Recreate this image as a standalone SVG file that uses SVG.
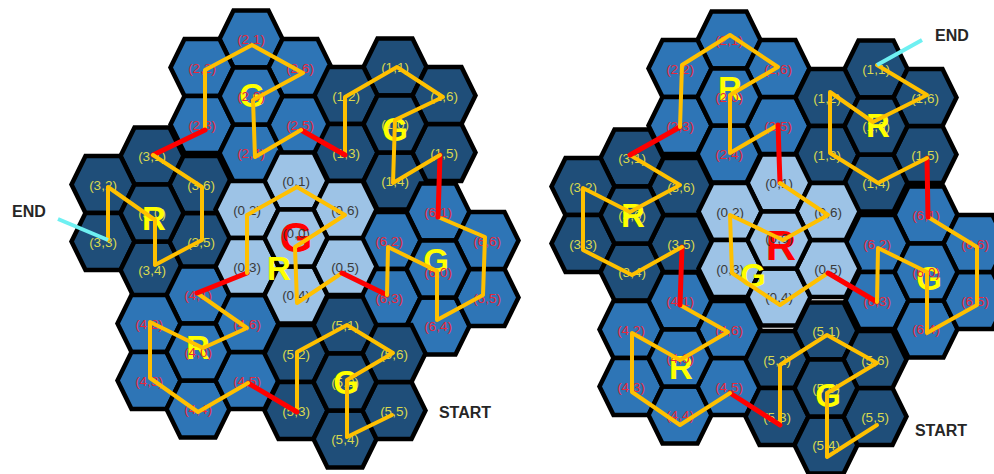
<svg xmlns="http://www.w3.org/2000/svg" width="994" height="474" viewBox="0 0 994 474">
<style>
.lt use{fill:#9DC3E6}.md use{fill:#2E75B6}.dk use{fill:#1F4E79}
.lb{font-family:"Liberation Sans",Arial,sans-serif;font-size:13.5px;text-anchor:middle}
.lt .lb{fill:#3A3A3A}.md .lb{fill:#E8283C}.dk .lb{fill:#D8D850}
.big{font-family:"Liberation Sans",Arial,sans-serif;font-weight:bold;text-anchor:middle;font-size:33px;fill:#FFFF00}
.bigred{font-size:42px;fill:#FF0000}
.y{fill:none;stroke:#FFC000;stroke-width:4;stroke-linejoin:round;stroke-linecap:round}
.r{fill:none;stroke:#FF0000;stroke-width:5;stroke-linecap:round}
.c{fill:none;stroke:#6EF0F2;stroke-width:4}
.tag{font-family:"Liberation Sans",Arial,sans-serif;font-weight:bold;font-size:16px;fill:#262626;text-anchor:middle}
</style>
<defs>
<polygon id="hx" points="-31.5,0 -17.5,-28.5 17.5,-28.5 31.5,0 17.5,28.5 -17.5,28.5" stroke="#000" stroke-width="4.5"/>
</defs>
<rect width="994" height="474" fill="#fff"/>

<g id="left">
<g id="L-c2" class="md" transform="translate(251,96)">
<g id="L-2-1" transform="translate(0,-57)"><use href="#hx"/><text class="lb" y="5">(2,1)</text></g>
<g id="L-2-2" transform="translate(-49,-28.5)"><use href="#hx"/><text class="lb" y="5">(2,2)</text></g>
<g id="L-2-3" transform="translate(-49,28.5)"><use href="#hx"/><text class="lb" y="5">(2,3)</text></g>
<g id="L-2-4" transform="translate(0,57)"><use href="#hx"/><text class="lb" y="5">(2,4)</text></g>
<g id="L-2-5" transform="translate(49,28.5)"><use href="#hx"/><text class="lb" y="5">(2,5)</text></g>
<g id="L-2-6" transform="translate(49,-28.5)"><use href="#hx"/><text class="lb" y="5">(2,6)</text></g>
<g id="L-2-0"><use href="#hx"/><text class="big" x="1" y="11">G</text><text class="lb" y="5">(2,0)</text></g>
</g>
<g id="L-c1" class="dk" transform="translate(395,124)">
<g id="L-1-1" transform="translate(0,-57)"><use href="#hx"/><text class="lb" y="5">(1,1)</text></g>
<g id="L-1-2" transform="translate(-49,-28.5)"><use href="#hx"/><text class="lb" y="5">(1,2)</text></g>
<g id="L-1-3" transform="translate(-49,28.5)"><use href="#hx"/><text class="lb" y="5">(1,3)</text></g>
<g id="L-1-4" transform="translate(0,57)"><use href="#hx"/><text class="lb" y="5">(1,4)</text></g>
<g id="L-1-5" transform="translate(49,28.5)"><use href="#hx"/><text class="lb" y="5">(1,5)</text></g>
<g id="L-1-6" transform="translate(49,-28.5)"><use href="#hx"/><text class="lb" y="5">(1,6)</text></g>
<g id="L-1-0"><use href="#hx"/><text class="lb" y="5">(1,0)</text><text class="big" y="17">G</text></g>
</g>
<g id="L-c3" class="dk" transform="translate(152,213)">
<g id="L-3-1" transform="translate(0,-57)"><use href="#hx"/><text class="lb" y="5">(3,1)</text></g>
<g id="L-3-2" transform="translate(-49,-28.5)"><use href="#hx"/><text class="lb" y="5">(3,2)</text></g>
<g id="L-3-3" transform="translate(-49,28.5)"><use href="#hx"/><text class="lb" y="5">(3,3)</text></g>
<g id="L-3-4" transform="translate(0,57)"><use href="#hx"/><text class="lb" y="5">(3,4)</text></g>
<g id="L-3-5" transform="translate(49,28.5)"><use href="#hx"/><text class="lb" y="5">(3,5)</text></g>
<g id="L-3-6" transform="translate(49,-28.5)"><use href="#hx"/><text class="lb" y="5">(3,6)</text></g>
<g id="L-3-0"><use href="#hx"/><text class="lb" y="5">(3,0)</text><text class="big" x="2" y="17">R</text></g>
</g>
<g id="L-c6" class="md" transform="translate(438,269)">
<g id="L-6-1" transform="translate(0,-57)"><use href="#hx"/><text class="lb" y="5">(6,1)</text></g>
<g id="L-6-2" transform="translate(-49,-28.5)"><use href="#hx"/><text class="lb" y="5">(6,2)</text></g>
<g id="L-6-3" transform="translate(-49,28.5)"><use href="#hx"/><text class="lb" y="5">(6,3)</text></g>
<g id="L-6-4" transform="translate(0,57)"><use href="#hx"/><text class="lb" y="5">(6,4)</text></g>
<g id="L-6-5" transform="translate(49,28.5)"><use href="#hx"/><text class="lb" y="5">(6,5)</text></g>
<g id="L-6-6" transform="translate(49,-28.5)"><use href="#hx"/><text class="lb" y="5">(6,6)</text></g>
<g id="L-6-0"><use href="#hx"/><text class="big" x="-2" y="3">G</text><text class="lb" y="8">(6,0)</text></g>
</g>
<g id="L-c4" class="md" transform="translate(198,352)">
<g id="L-4-1" transform="translate(0,-57)"><use href="#hx"/><text class="lb" y="5">(4,1)</text></g>
<g id="L-4-2" transform="translate(-49,-28.5)"><use href="#hx"/><text class="lb" y="5">(4,2)</text></g>
<g id="L-4-3" transform="translate(-49,28.5)"><use href="#hx"/><text class="lb" y="5">(4,3)</text></g>
<g id="L-4-4" transform="translate(0,57)"><use href="#hx"/><text class="lb" y="5">(4,4)</text></g>
<g id="L-4-5" transform="translate(49,28.5)"><use href="#hx"/><text class="lb" y="5">(4,5)</text></g>
<g id="L-4-6" transform="translate(49,-28.5)"><use href="#hx"/><text class="lb" y="5">(4,6)</text></g>
<g id="L-4-0"><use href="#hx"/><text class="big" y="7">R</text><text class="lb" y="5">(4,0)</text></g>
</g>
<g id="L-c5" class="dk" transform="translate(345,382)">
<g id="L-5-1" transform="translate(0,-57)"><use href="#hx"/><text class="lb" y="5">(5,1)</text></g>
<g id="L-5-2" transform="translate(-49,-28.5)"><use href="#hx"/><text class="lb" y="5">(5,2)</text></g>
<g id="L-5-3" transform="translate(-49,28.5)"><use href="#hx"/><text class="lb" y="5">(5,3)</text></g>
<g id="L-5-4" transform="translate(0,57)"><use href="#hx"/><text class="lb" y="5">(5,4)</text></g>
<g id="L-5-5" transform="translate(49,28.5)"><use href="#hx"/><text class="lb" y="5">(5,5)</text></g>
<g id="L-5-6" transform="translate(49,-28.5)"><use href="#hx"/><text class="lb" y="5">(5,6)</text></g>
<g id="L-5-0"><use href="#hx"/><text class="lb" y="5">(5,0)</text><text class="big" x="1" y="12">G</text></g>
</g>
<g id="L-c0" class="lt" transform="translate(296,238)">
<g id="L-0-1" transform="translate(0,-57)"><use href="#hx"/><text class="lb" y="5">(0,1)</text></g>
<g id="L-0-2" transform="translate(-49,-28.5)"><use href="#hx"/><text class="lb" y="5">(0,2)</text></g>
<g id="L-0-3" transform="translate(-49,28.5)"><use href="#hx"/><text class="lb" y="5">(0,3)</text></g>
<g id="L-0-4" transform="translate(0,57)"><use href="#hx"/><text class="lb" y="5">(0,4)</text></g>
<g id="L-0-5" transform="translate(49,28.5)"><use href="#hx"/><text class="lb" y="5">(0,5)</text></g>
<g id="L-0-6" transform="translate(49,-28.5)"><use href="#hx"/><text class="lb" y="5">(0,6)</text></g>
<g id="L-0-0"><use href="#hx"/><text class="big bigred" y="14">G</text><text class="lb" y="0">(0,0)</text></g>
</g>
<text id="L-R0" class="big" x="279" y="280">R</text>
<text id="L-start" class="tag" x="465" y="418">START</text>
<text id="L-end" class="tag" x="29" y="217">END</text>
</g>

<g id="right">
<g id="R-c2" class="md" transform="translate(729,97)">
<g id="R-2-1" transform="translate(0,-57)"><use href="#hx"/><text class="lb" y="5">(2,1)</text></g>
<g id="R-2-2" transform="translate(-49,-28.5)"><use href="#hx"/><text class="lb" y="5">(2,2)</text></g>
<g id="R-2-3" transform="translate(-49,28.5)"><use href="#hx"/><text class="lb" y="5">(2,3)</text></g>
<g id="R-2-4" transform="translate(0,57)"><use href="#hx"/><text class="lb" y="5">(2,4)</text></g>
<g id="R-2-5" transform="translate(49,28.5)"><use href="#hx"/><text class="lb" y="5">(2,5)</text></g>
<g id="R-2-6" transform="translate(49,-28.5)"><use href="#hx"/><text class="lb" y="5">(2,6)</text></g>
<g id="R-2-0"><use href="#hx"/><text class="big" x="1" y="3">R</text><text class="lb" y="5">(2,0)</text></g>
</g>
<g id="R-c1" class="dk" transform="translate(876,126)">
<g id="R-1-1" transform="translate(0,-57)"><use href="#hx"/><text class="lb" y="5">(1,1)</text></g>
<g id="R-1-2" transform="translate(-49,-28.5)"><use href="#hx"/><text class="lb" y="5">(1,2)</text></g>
<g id="R-1-3" transform="translate(-49,28.5)"><use href="#hx"/><text class="lb" y="5">(1,3)</text></g>
<g id="R-1-4" transform="translate(0,57)"><use href="#hx"/><text class="lb" y="5">(1,4)</text></g>
<g id="R-1-5" transform="translate(49,28.5)"><use href="#hx"/><text class="lb" y="5">(1,5)</text></g>
<g id="R-1-6" transform="translate(49,-28.5)"><use href="#hx"/><text class="lb" y="5">(1,6)</text></g>
<g id="R-1-0"><use href="#hx"/><text class="lb" y="5">(1,0)</text><text class="big" x="2" y="11">R</text></g>
</g>
<g id="R-c3" class="dk" transform="translate(632,215)">
<g id="R-3-1" transform="translate(0,-57)"><use href="#hx"/><text class="lb" y="5">(3,1)</text></g>
<g id="R-3-2" transform="translate(-49,-28.5)"><use href="#hx"/><text class="lb" y="5">(3,2)</text></g>
<g id="R-3-3" transform="translate(-49,28.5)"><use href="#hx"/><text class="lb" y="5">(3,3)</text></g>
<g id="R-3-4" transform="translate(0,57)"><use href="#hx"/><text class="lb" y="5">(3,4)</text></g>
<g id="R-3-5" transform="translate(49,28.5)"><use href="#hx"/><text class="lb" y="5">(3,5)</text></g>
<g id="R-3-6" transform="translate(49,-28.5)"><use href="#hx"/><text class="lb" y="5">(3,6)</text></g>
<g id="R-3-0"><use href="#hx"/><text class="lb" y="5">(3,0)</text><text class="big" x="1" y="12">R</text></g>
</g>
<g id="R-c6" class="md" transform="translate(926,272)">
<g id="R-6-1" transform="translate(0,-57)"><use href="#hx"/><text class="lb" y="5">(6,1)</text></g>
<g id="R-6-2" transform="translate(-49,-28.5)"><use href="#hx"/><text class="lb" y="5">(6,2)</text></g>
<g id="R-6-3" transform="translate(-49,28.5)"><use href="#hx"/><text class="lb" y="5">(6,3)</text></g>
<g id="R-6-4" transform="translate(0,57)"><use href="#hx"/><text class="lb" y="5">(6,4)</text></g>
<g id="R-6-5" transform="translate(49,28.5)"><use href="#hx"/><text class="lb" y="5">(6,5)</text></g>
<g id="R-6-6" transform="translate(49,-28.5)"><use href="#hx"/><text class="lb" y="5">(6,6)</text></g>
<g id="R-6-0"><use href="#hx"/><text class="big" x="3" y="18">G</text><text class="lb" y="5">(6,0)</text></g>
</g>
<g id="R-c4" class="md" transform="translate(680,358)">
<g id="R-4-1" transform="translate(0,-57)"><use href="#hx"/><text class="lb" y="5">(4,1)</text></g>
<g id="R-4-2" transform="translate(-49,-28.5)"><use href="#hx"/><text class="lb" y="5">(4,2)</text></g>
<g id="R-4-3" transform="translate(-49,28.5)"><use href="#hx"/><text class="lb" y="5">(4,3)</text></g>
<g id="R-4-4" transform="translate(0,57)"><use href="#hx"/><text class="lb" y="5">(4,4)</text></g>
<g id="R-4-5" transform="translate(49,28.5)"><use href="#hx"/><text class="lb" y="5">(4,5)</text></g>
<g id="R-4-6" transform="translate(49,-28.5)"><use href="#hx"/><text class="lb" y="5">(4,6)</text></g>
<g id="R-4-0"><use href="#hx"/><text class="big" x="1" y="21">R</text><text class="lb" y="5">(4,0)</text></g>
</g>
<g id="R-c5" class="dk" transform="translate(826,388)">
<g id="R-5-1" transform="translate(0,-57)"><use href="#hx"/><text class="lb" y="5">(5,1)</text></g>
<g id="R-5-2" transform="translate(-49,-28.5)"><use href="#hx"/><text class="lb" y="5">(5,2)</text></g>
<g id="R-5-3" transform="translate(-49,28.5)"><use href="#hx"/><text class="lb" y="5">(5,3)</text></g>
<g id="R-5-4" transform="translate(0,57)"><use href="#hx"/><text class="lb" y="5">(5,4)</text></g>
<g id="R-5-5" transform="translate(49,28.5)"><use href="#hx"/><text class="lb" y="5">(5,5)</text></g>
<g id="R-5-6" transform="translate(49,-28.5)"><use href="#hx"/><text class="lb" y="5">(5,6)</text></g>
<g id="R-5-0"><use href="#hx"/><text class="lb" y="5">(5,0)</text><text class="big" x="2" y="19">G</text></g>
</g>
<g id="R-c0" class="lt" transform="translate(779,240)">
<g id="R-0-1" transform="translate(0,-57)"><use href="#hx"/><text class="lb" y="5">(0,1)</text></g>
<g id="R-0-2" transform="translate(-49,-28.5)"><use href="#hx"/><text class="lb" y="5">(0,2)</text></g>
<g id="R-0-3" transform="translate(-49,28.5)"><use href="#hx"/><text class="lb" y="5">(0,3)</text></g>
<g id="R-0-4" transform="translate(0,57)"><use href="#hx"/><text class="lb" y="5">(0,4)</text></g>
<g id="R-0-5" transform="translate(49,28.5)"><use href="#hx"/><text class="lb" y="5">(0,5)</text></g>
<g id="R-0-6" transform="translate(49,-28.5)"><use href="#hx"/><text class="lb" y="5">(0,6)</text></g>
<g id="R-0-0"><use href="#hx"/><text class="big bigred" x="2" y="20">R</text><text class="lb" y="3">(0,0)</text></g>
</g>
<text id="R-G0" class="big" x="753" y="287">G</text>
<text id="R-start" class="tag" x="941" y="436">START</text>
<text id="R-end" class="tag" x="952" y="41">END</text>
</g>

<g id="connectors">
<polyline class="y" points="392,415 347,437 347,380 393,353 347,325 297,352 297,412"/>
<line class="r" x1="297" y1="412" x2="248" y2="383"/>
<polyline class="y" points="248,383 198,412 150,378 150,322 203,348 247,328 197,293"/>
<line class="r" x1="197" y1="293" x2="247" y2="273"/>
<polyline class="y" points="247,273 247,215 297,187 345,215 295,247 297,303 342,273"/>
<line class="r" x1="342" y1="273" x2="387" y2="295"/>
<polyline class="y" points="387,295 388,247 437,271 437,320 483,295 485,237 438,217"/>
<line class="r" x1="438" y1="217" x2="440" y2="155"/>
<polyline class="y" points="440,155 393,183 395,120 443,97 397,67 345,97 345,155"/>
<line class="r" x1="345" y1="155" x2="301" y2="130"/>
<polyline class="y" points="301,130 255,157 253,100 303,73 252,45 205,70 205,130"/>
<line class="r" x1="205" y1="130" x2="153" y2="155"/>
<polyline class="y" points="153,155 202,187 202,240 155,265 155,220 108,187 108,240"/>
<line class="c" x1="108" y1="240" x2="58" y2="219"/>

<polyline class="y" points="877,425 827,457 827,393 877,363 827,335 780,365 780,425"/>
<line class="r" x1="780" y1="425" x2="730" y2="393"/>
<polyline class="y" points="730,393 680,425 632,392 632,333 680,360 728,332 680,305"/>
<line class="r" x1="680" y1="305" x2="682" y2="247"/>
<polyline class="y" points="682,247 632,275 583,250 583,188 630,212 680,185 630,155"/>
<line class="r" x1="630" y1="155" x2="680" y2="127"/>
<polyline class="y" points="680,127 682,65 730,35 778,67 730,95 730,153 778,125"/>
<line class="r" x1="778" y1="125" x2="780" y2="183"/>
<polyline class="y" points="780,183 828,215 783,240 730,215 732,273 780,305 828,273"/>
<line class="r" x1="828" y1="273" x2="877" y2="302"/>
<polyline class="y" points="877,302 878,248 927,272 927,333 977,305 977,247 928,217"/>
<line class="r" x1="928" y1="217" x2="927" y2="158"/>
<polyline class="y" points="927,158 878,183 830,153 830,92 873,122 927,95 877,65"/>
<line class="c" x1="877" y1="65" x2="922" y2="40"/>
</g>
</svg>
